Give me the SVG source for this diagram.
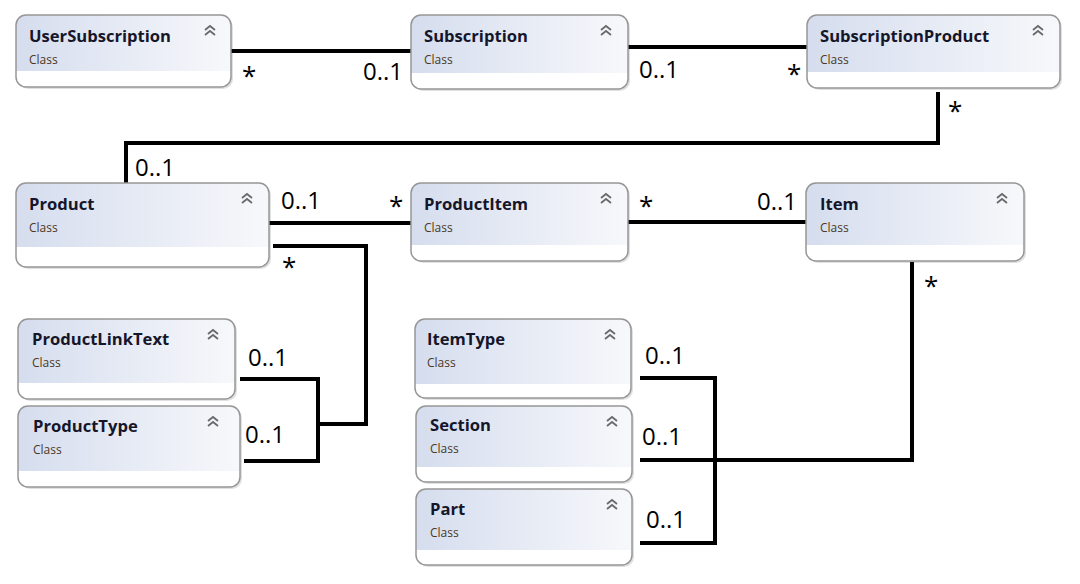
<svg xmlns="http://www.w3.org/2000/svg" width="1080" height="584" viewBox="0 0 1080 584">
<style>
.shadow{fill:#000;opacity:0.12}
.body{fill:#fff}
.hdr{fill:url(#hg)}
.border{fill:none;stroke:#969696;stroke-width:1.5}
.title{font-family:"Open Sans","Noto Sans",sans-serif;font-weight:bold;font-size:16.6px;fill:#16162a}
.sub{font-family:"Open Sans","Noto Sans",sans-serif;font-size:12px;fill:#4a3826}
.chev{fill:none;stroke:#6a6a6a;stroke-width:1.8}
.conn{fill:none;stroke:#000;stroke-width:4}
.lbl{font-family:"Open Sans","Noto Sans",sans-serif;font-size:24px;fill:#000}
.ast{font-family:"Open Sans","Noto Sans",sans-serif;font-size:26px;fill:#000}
</style>
<defs>
<linearGradient id="hg" x1="0" y1="0" x2="1" y2="0">
<stop offset="0" stop-color="#d5ddee"/>
<stop offset="1" stop-color="#f7f8fb"/>
</linearGradient>
<g id="chv"><polyline class="chev" points="-5,4 0,0 5,4"/><polyline class="chev" points="-5,9 0,5 5,9"/></g>
</defs>
<rect width="1080" height="584" fill="#fff"/>

<g id="connectors">
<path class="conn" d="M231,51 H411"/>
<path class="conn" d="M628,47 H807"/>
<path class="conn" d="M938,92 V143 H126 V183"/>
<path class="conn" d="M269,223 H411"/>
<path class="conn" d="M273,246 H366 V424 H318"/>
<path class="conn" d="M240,379 H318 V461 H244"/>
<path class="conn" d="M628,222 H806"/>
<path class="conn" d="M912,262 V460 H640"/>
<path class="conn" d="M640,378 H715 V543 H640"/>
<text class="ast" x="242" y="85">*</text>
<text class="lbl" x="363" y="80">0..1</text>
<text class="lbl" x="639" y="78">0..1</text>
<text class="ast" x="787" y="83">*</text>
<text class="ast" x="948" y="120">*</text>
<text class="lbl" x="135" y="176">0..1</text>
<text class="lbl" x="281" y="209">0..1</text>
<text class="ast" x="389" y="215">*</text>
<text class="ast" x="282" y="276">*</text>
<text class="lbl" x="757" y="210">0..1</text>
<text class="ast" x="639" y="215">*</text>
<text class="ast" x="924" y="295">*</text>
<text class="lbl" x="248" y="366">0..1</text>
<text class="lbl" x="245" y="443">0..1</text>
<text class="lbl" x="645" y="364">0..1</text>
<text class="lbl" x="642" y="445">0..1</text>
<text class="lbl" x="646" y="528">0..1</text>
</g>

<g id="UserSubscription">
<rect class="shadow" x="18" y="17" width="215" height="72" rx="10"/>
<rect class="body" x="16" y="15" width="215" height="72" rx="10"/>
<path class="hdr" d="M16,71 V25 Q16,15 26,15 H221 Q231,15 231,25 V71 Z"/>
<rect class="border" x="16" y="15" width="215" height="72" rx="10"/>
<text class="title" x="29" y="42">UserSubscription</text>
<text class="sub" x="29" y="64">Class</text>
<use href="#chv" x="210" y="26"/>
</g>

<g id="Subscription">
<rect class="shadow" x="413" y="17" width="217" height="74" rx="10"/>
<rect class="body" x="411" y="15" width="217" height="74" rx="10"/>
<path class="hdr" d="M411,73 V25 Q411,15 421,15 H618 Q628,15 628,25 V73 Z"/>
<rect class="border" x="411" y="15" width="217" height="74" rx="10"/>
<text class="title" x="424" y="42">Subscription</text>
<text class="sub" x="424" y="64">Class</text>
<use href="#chv" x="606" y="26"/>
</g>

<g id="SubscriptionProduct">
<rect class="shadow" x="809" y="17" width="253" height="73" rx="10"/>
<rect class="body" x="807" y="15" width="253" height="73" rx="10"/>
<path class="hdr" d="M807,72 V25 Q807,15 817,15 H1050 Q1060,15 1060,25 V72 Z"/>
<rect class="border" x="807" y="15" width="253" height="73" rx="10"/>
<text class="title" x="820" y="42">SubscriptionProduct</text>
<text class="sub" x="820" y="64">Class</text>
<use href="#chv" x="1038" y="26"/>
</g>

<g id="Product">
<rect class="shadow" x="18" y="185" width="253" height="84" rx="10"/>
<rect class="body" x="16" y="183" width="253" height="84" rx="10"/>
<path class="hdr" d="M16,247 V193 Q16,183 26,183 H259 Q269,183 269,193 V247 Z"/>
<rect class="border" x="16" y="183" width="253" height="84" rx="10"/>
<text class="title" x="29" y="210">Product</text>
<text class="sub" x="29" y="232">Class</text>
<use href="#chv" x="247" y="194"/>
</g>

<g id="ProductItem">
<rect class="shadow" x="413" y="185" width="217" height="78" rx="10"/>
<rect class="body" x="411" y="183" width="217" height="78" rx="10"/>
<path class="hdr" d="M411,245 V193 Q411,183 421,183 H618 Q628,183 628,193 V245 Z"/>
<rect class="border" x="411" y="183" width="217" height="78" rx="10"/>
<text class="title" x="424" y="210">ProductItem</text>
<text class="sub" x="424" y="232">Class</text>
<use href="#chv" x="606" y="194"/>
</g>

<g id="Item">
<rect class="shadow" x="808" y="185" width="218" height="78" rx="10"/>
<rect class="body" x="806" y="183" width="218" height="78" rx="10"/>
<path class="hdr" d="M806,245 V193 Q806,183 816,183 H1014 Q1024,183 1024,193 V245 Z"/>
<rect class="border" x="806" y="183" width="218" height="78" rx="10"/>
<text class="title" x="820" y="210">Item</text>
<text class="sub" x="820" y="232">Class</text>
<use href="#chv" x="1002" y="194"/>
</g>

<g id="ProductLinkText">
<rect class="shadow" x="20" y="321" width="217" height="80" rx="10"/>
<rect class="body" x="18" y="319" width="217" height="80" rx="10"/>
<path class="hdr" d="M18,383 V329 Q18,319 28,319 H225 Q235,319 235,329 V383 Z"/>
<rect class="border" x="18" y="319" width="217" height="80" rx="10"/>
<text class="title" x="32" y="345">ProductLinkText</text>
<text class="sub" x="32" y="367">Class</text>
<use href="#chv" x="213" y="330"/>
</g>

<g id="ProductType">
<rect class="shadow" x="20" y="408" width="222" height="81" rx="10"/>
<rect class="body" x="18" y="406" width="222" height="81" rx="10"/>
<path class="hdr" d="M18,471 V416 Q18,406 28,406 H230 Q240,406 240,416 V471 Z"/>
<rect class="border" x="18" y="406" width="222" height="81" rx="10"/>
<text class="title" x="33" y="432">ProductType</text>
<text class="sub" x="33" y="454">Class</text>
<use href="#chv" x="213" y="417"/>
</g>

<g id="ItemType">
<rect class="shadow" x="417" y="321" width="216" height="79" rx="10"/>
<rect class="body" x="415" y="319" width="216" height="79" rx="10"/>
<path class="hdr" d="M415,384 V329 Q415,319 425,319 H621 Q631,319 631,329 V384 Z"/>
<rect class="border" x="415" y="319" width="216" height="79" rx="10"/>
<text class="title" x="427" y="345">ItemType</text>
<text class="sub" x="427" y="367">Class</text>
<use href="#chv" x="610" y="330"/>
</g>

<g id="Section">
<rect class="shadow" x="418" y="408" width="216" height="76" rx="10"/>
<rect class="body" x="416" y="406" width="216" height="76" rx="10"/>
<path class="hdr" d="M416,467 V416 Q416,406 426,406 H622 Q632,406 632,416 V467 Z"/>
<rect class="border" x="416" y="406" width="216" height="76" rx="10"/>
<text class="title" x="430" y="431">Section</text>
<text class="sub" x="430" y="453">Class</text>
<use href="#chv" x="612" y="417"/>
</g>

<g id="Part">
<rect class="shadow" x="418" y="491" width="216" height="76" rx="10"/>
<rect class="body" x="416" y="489" width="216" height="76" rx="10"/>
<path class="hdr" d="M416,550 V499 Q416,489 426,489 H622 Q632,489 632,499 V550 Z"/>
<rect class="border" x="416" y="489" width="216" height="76" rx="10"/>
<text class="title" x="430" y="515">Part</text>
<text class="sub" x="430" y="537">Class</text>
<use href="#chv" x="612" y="500"/>
</g>
</svg>
